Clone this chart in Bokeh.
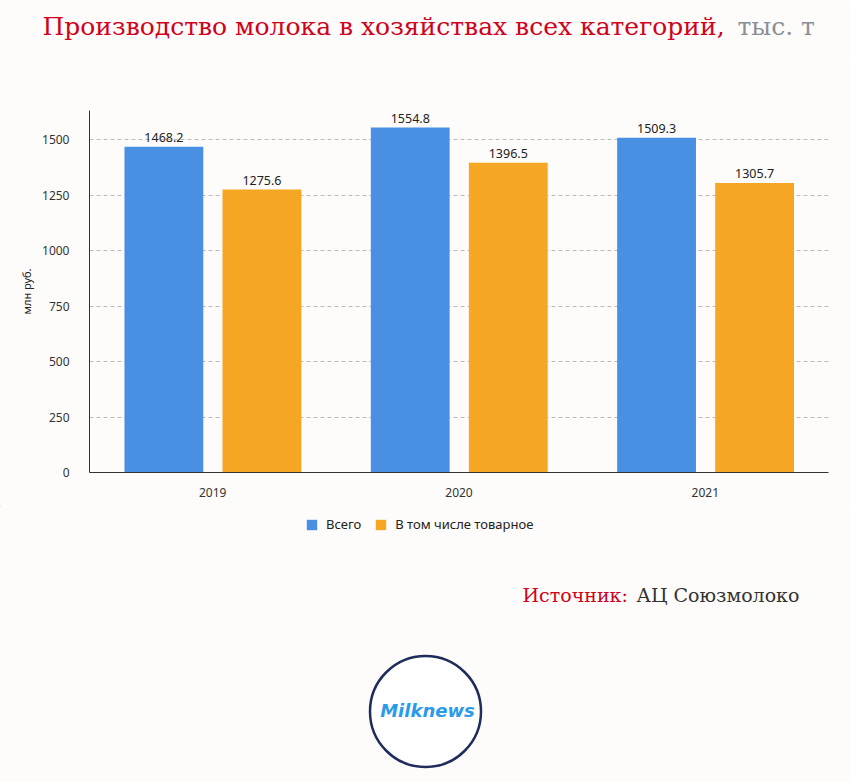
from bokeh.plotting import figure
from bokeh.models import (ColumnDataSource, Legend, LegendItem, Range1d,
                          FixedTicker)
from bokeh.transform import dodge
from bokeh.layouts import column, row
from bokeh.embed import file_html
from bokeh.resources import INLINE
from bokeh.core.properties import value

# Milk production, thousand tonnes
years = ["2019", "2020", "2021"]
total = [1468.2, 1554.8, 1509.3]
market = [1275.6, 1396.5, 1305.7]
series_names = ["Всего", "В том числе товарное"]
y_ticks = [0, 250, 500, 750, 1000, 1250, 1500]

BG = "#fdfcfa"
BLUE = "#4a90e2"
ORANGE = "#f5a623"
FONT = "Noto Sans"
SERIF = "DejaVu Serif"
W = 851


def canvas(height):
    """A blank strip whose data units are pixels measured from its top-left."""
    f = figure(width=W, height=height, x_range=Range1d(0, W),
               y_range=Range1d(height, 0), output_backend="svg",
               toolbar_location=None, min_border=0,
               x_axis_location=None, y_axis_location=None,
               background_fill_color=BG, border_fill_color=BG,
               outline_line_color=None)
    f.grid.visible = False
    return f


# --- header -------------------------------------------------------------
HEAD_H = 60
head = canvas(HEAD_H)
head.text(x=[42], y=[26], text=["Производство молока в хозяйствах всех категорий,"],
          text_font=value(SERIF), text_font_size="25px", text_color="#d0021b",
          text_baseline="middle")
head.text(x=[737], y=[26], text=["тыс. т"], text_font=value(SERIF),
          text_font_size="25px", text_color="#8a8f98", text_baseline="middle")

# --- chart --------------------------------------------------------------
src = ColumnDataSource(dict(
    year=years, total=total, market=market,
    total_lbl=[f"{v:.1f}" for v in total],
    market_lbl=[f"{v:.1f}" for v in market],
))

p = figure(x_range=years, y_range=Range1d(0, 1632),
           frame_width=739, frame_height=362,
           output_backend="svg", toolbar_location=None,
           min_border_left=89, min_border_right=23, min_border_top=50,
           min_border_bottom=33, background_fill_color=BG,
           border_fill_color=BG, outline_line_color=None)

p.vbar(x=dodge("year", -0.198, range=p.x_range), top="total", width=0.32,
       source=src, fill_color=BLUE, line_color=None)
p.vbar(x=dodge("year", 0.2, range=p.x_range), top="market", width=0.32,
       source=src, fill_color=ORANGE, line_color=None)

for xo, col, lbl in [(-0.198, "total", "total_lbl"), (0.2, "market", "market_lbl")]:
    p.text(x=dodge("year", xo, range=p.x_range), y=col, text=lbl, source=src,
           text_align="center", text_baseline="bottom", y_offset=-5,
           text_font=value(FONT), text_font_size="12.5px", text_color="#222222")

p.yaxis.ticker = FixedTicker(ticks=y_ticks)
p.yaxis.axis_label = "млн руб."
p.yaxis.axis_label_text_font = FONT
p.yaxis.axis_label_text_font_style = "normal"
p.yaxis.axis_label_text_font_size = "11px"
p.yaxis.axis_label_text_color = "#222222"
for ax in (p.xaxis[0], p.yaxis[0]):
    ax.major_label_text_font = FONT
    ax.major_label_text_font_size = "12px"
    ax.major_label_text_color = "#333333"
    ax.axis_line_color = "#333333"
    ax.major_tick_line_color = None
    ax.minor_tick_line_color = None
p.xaxis.major_label_standoff = 9
p.yaxis.major_label_standoff = 14

p.xgrid.grid_line_color = None
p.ygrid.grid_line_color = "#bbbbbb"
p.ygrid.grid_line_dash = "4 3"

# --- footer: legend, source, logo ---------------------------------------
FOOT_H = 782 - HEAD_H - (50 + 362 + 33)
foot = canvas(FOOT_H)

# off-canvas bars that only supply the legend swatches
s1 = foot.vbar(x=[-100], top=[1], width=1, fill_color=BLUE, line_color=None)
s2 = foot.vbar(x=[-100], top=[1], width=1, fill_color=ORANGE, line_color=None)
legend = Legend(items=[LegendItem(label=series_names[0], renderers=[s1]),
                       LegendItem(label=series_names[1], renderers=[s2])],
                orientation="horizontal", location=(305, FOOT_H - 28),
                background_fill_alpha=0, border_line_color=None,
                label_text_font=FONT, label_text_font_size="13px",
                label_text_color="#222222", glyph_width=13, glyph_height=13,
                spacing=13, label_standoff=8, margin=0, padding=4)
foot.add_layout(legend)

foot.text(x=[522], y=[89], text=["Источник:"], text_font=value(SERIF),
          text_font_size="19px", text_color="#d0021b", text_baseline="middle")
foot.text(x=[636], y=[89], text=["АЦ Союзмолоко"], text_font=value(SERIF),
          text_font_size="19px", text_color="#333333", text_baseline="middle")

foot.scatter(x=[425], y=[206], size=111, fill_color="white", line_color="#1f2d5c",
             line_width=2.5)
foot.text(x=[427], y=[205], text=["Milknews"], text_align="center",
          text_baseline="middle", text_font=value("DejaVu Sans"),
          text_font_style="bold italic", text_font_size="18px", text_color="#2a9be8")

layout = column(head, row(p), foot, spacing=0)
open("out.html", "w").write(file_html(layout, INLINE))
